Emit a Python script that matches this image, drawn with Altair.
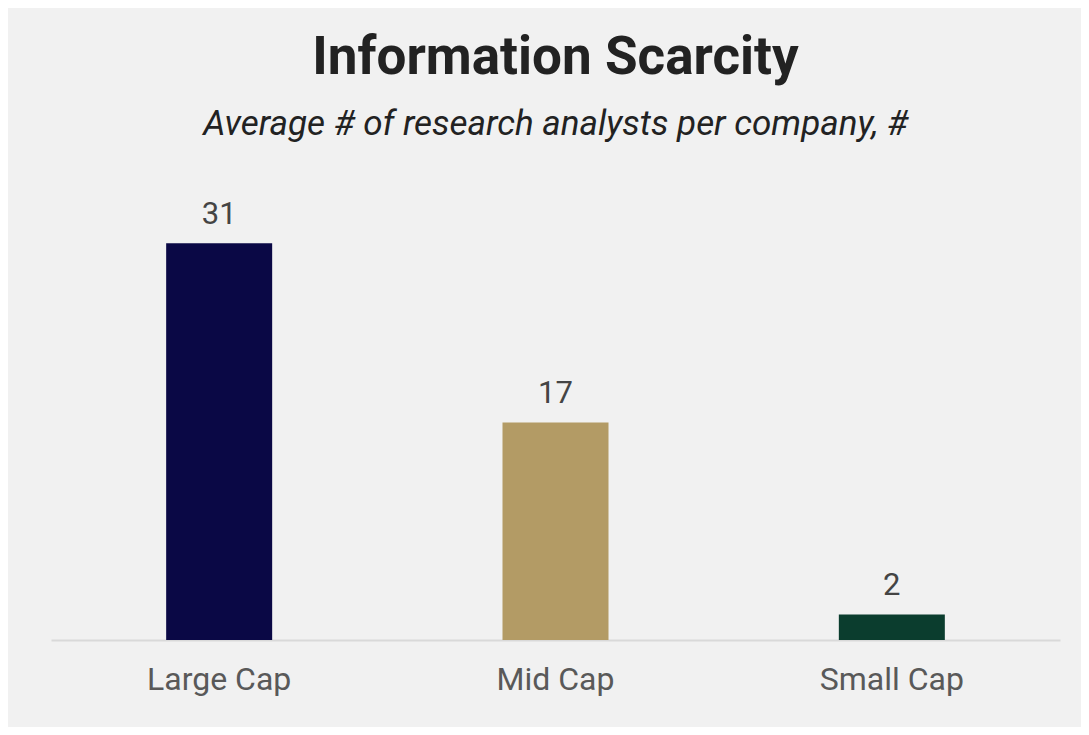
import altair as alt
import pandas as pd

categories = ["Large Cap", "Mid Cap", "Small Cap"]
values = [31, 17, 2]
colors = ["#0a0845", "#b39b65", "#0b3d2e"]

df = pd.DataFrame({"cat": categories, "val": values})

base = alt.Chart(df).encode(
    x=alt.X("cat:N", sort=categories, title=None,
            scale=alt.Scale(paddingInner=0, paddingOuter=0),
            axis=alt.Axis(labelAngle=0, labelFontSize=32, labelColor="#595959",
                          labelFont="Roboto", ticks=False, domainColor="#d9d9d9",
                          domainWidth=2, labelPadding=24, grid=False)),
    y=alt.Y("val:Q", scale=alt.Scale(domain=[0, 35], nice=False), axis=None),
)

bars = base.mark_bar(size=106).encode(
    color=alt.Color("cat:N", sort=categories,
                    scale=alt.Scale(domain=categories, range=colors), legend=None)
)

labels = base.mark_text(baseline="alphabetic", dy=-19, fontSize=31,
                        font="Roboto", color="#444444").encode(text="val:Q")

chart = (bars + labels).properties(
    width=1009, height=448,
    padding={"left": 43, "top": 184, "right": 21, "bottom": 87},
    autosize=alt.AutoSizeParams(type="none"),
    background="#f1f1f1",
    title=alt.TitleParams(
        text="Information Scarcity",
        subtitle="Average # of research analysts per company, #",
        anchor="middle", font="Roboto", fontSize=53, fontWeight="bold",
        color="#222222", subtitleFont="Roboto", subtitleFontSize=35,
        subtitleFontStyle="italic", subtitleColor="#222222",
        subtitlePadding=22, offset=50,
    ),
).configure_view(stroke=None)

chart.save("out.html", embed_options={"renderer": "svg", "actions": False})
